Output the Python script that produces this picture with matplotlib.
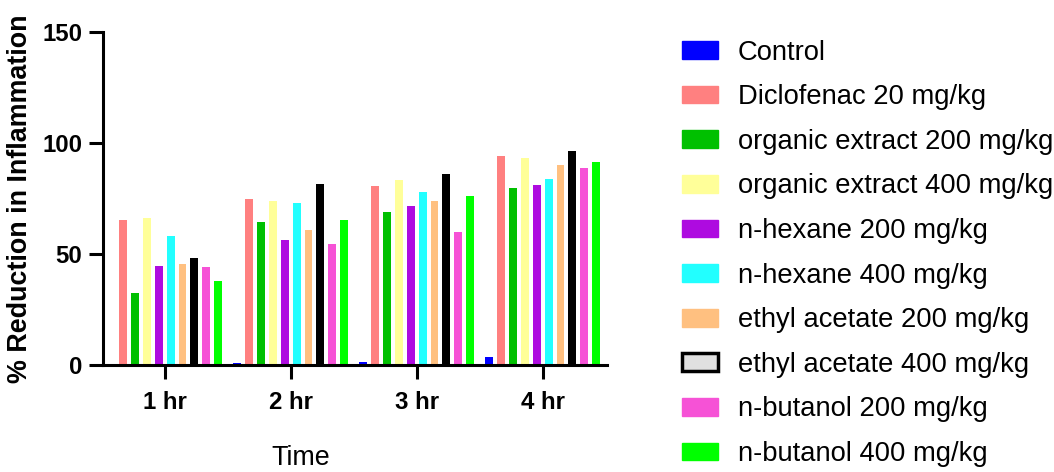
import numpy as np
import matplotlib
matplotlib.use("Agg")
import matplotlib.pyplot as plt
from matplotlib.patches import Patch

plt.rcParams["font.family"] = ["Liberation Sans", "DejaVu Sans"]

# data
times = ["1 hr", "2 hr", "3 hr", "4 hr"]
groups = [
    "Control",
    "Diclofenac 20 mg/kg",
    "organic extract 200 mg/kg",
    "organic extract 400 mg/kg",
    "n-hexane 200 mg/kg",
    "n-hexane 400 mg/kg",
    "ethyl acetate 200 mg/kg",
    "ethyl acetate 400 mg/kg",
    "n-butanol 200 mg/kg",
    "n-butanol 400 mg/kg",
]
control = [0.0, 0.9, 1.4, 3.7]
diclofenac = [65.1, 74.6, 80.7, 94.3]
org200 = [32.6, 64.6, 68.7, 79.7]
org400 = [66.4, 73.7, 83.4, 93.1]
hex200 = [44.8, 56.1, 71.7, 81.3]
hex400 = [57.9, 72.8, 77.9, 83.9]
ea200 = [45.7, 60.6, 74.0, 90.0]
ea400 = [48.3, 81.5, 86.2, 96.5]
but200 = [44.3, 54.6, 60.0, 88.9]
but400 = [38.0, 65.5, 76.1, 91.4]
series = [control, diclofenac, org200, org400, hex200, hex400,
          ea200, ea400, but200, but400]

colors = ["#0000FF", "#FF8080", "#00C000", "#FFFF99", "#AE0BE0",
          "#22FFFF", "#FFC080", "#000000", "#F652D6", "#00FF00"]

fig = plt.figure(figsize=(10.54, 4.72), dpi=100)
ax = fig.add_axes([103 / 1054, 107 / 472, 504 / 1054, 333 / 472])

x = np.arange(len(times))
slot = 0.094
width = 0.063
handles = []
for i, (vals, c, name) in enumerate(zip(series, colors, groups)):
    ax.bar(x + (i - 4.5) * slot, vals, width, color=c, zorder=1)
    if i == 7:
        # legend swatch is grey with a heavy black outline
        handles.append(Patch(facecolor="#e0e0e0", edgecolor="black", linewidth=2.5, label=name))
    else:
        handles.append(Patch(facecolor=c, edgecolor=c, label=name))

ax.set_xlim(-0.49, 3.51)
ax.set_ylim(0, 150)
ax.set_yticks([0, 50, 100, 150])
ax.set_xticks(x)
ax.set_xticklabels(times)
for s in ["top", "right"]:
    ax.spines[s].set_visible(False)
for s in ["left", "bottom"]:
    ax.spines[s].set_linewidth(2.2)
ax.tick_params(width=2.2, length=10, labelsize=17.3)
ax.tick_params(axis="y", pad=5)
ax.tick_params(axis="x", pad=9)
for lab in ax.get_xticklabels() + ax.get_yticklabels():
    lab.set_fontweight("bold")

ax.set_ylabel("% Reduction in Inflammation", fontsize=19.4, fontweight="bold")
ax.yaxis.set_label_coords(-0.139, 0.5)
ax.set_xlabel("Time", fontsize=19.4)
ax.xaxis.set_label_coords(0.393, -0.24)

fig.legend(handles=handles, loc="upper left", bbox_to_anchor=(0.647, 0.916),
           frameon=False, fontsize=19.7, handlelength=1.32, handleheight=0.62,
           handletextpad=0.73, labelspacing=0.68, borderpad=0, borderaxespad=0)

fig.savefig("out.png", dpi=100)
